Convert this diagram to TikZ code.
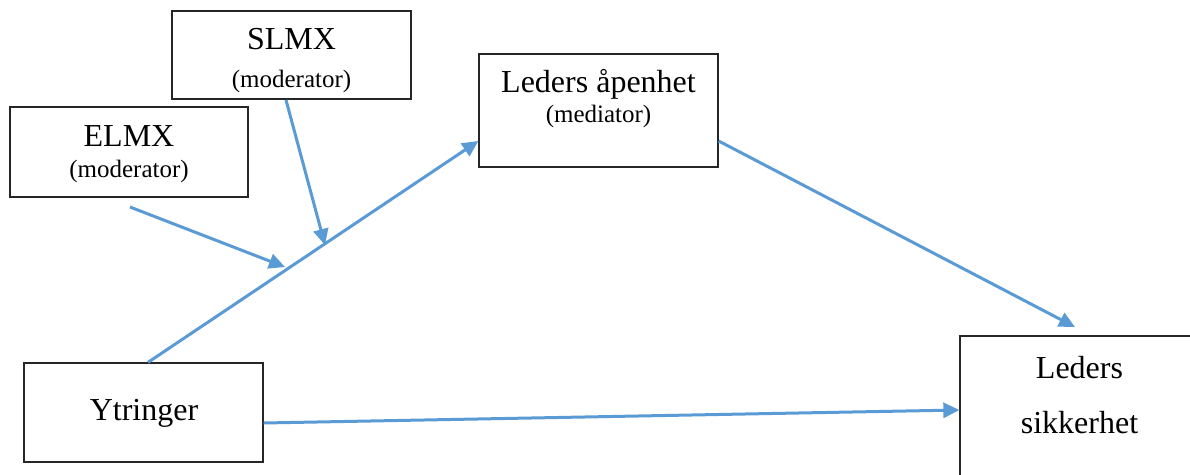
\documentclass[tikz,border=0pt]{standalone}
\usepackage{fontspec}
\setmainfont{Liberation Serif}
\usetikzlibrary{arrows.meta,calc}
\definecolor{arrowblue}{RGB}{91,155,213}
\tikzset{
  box/.style={draw=black!85, line width=1.3pt, fill=white, inner sep=0pt, rectangle},
  title/.style={anchor=base, inner sep=0pt, font=\fontsize{32}{36}\selectfont},
  sub/.style={anchor=base, inner sep=0pt, font=\fontsize{25}{29}\selectfont},
  link/.style={draw=arrowblue, line width=3pt, -{Triangle[length=16pt,width=15pt]}}
}
\begin{document}
\begin{tikzpicture}[x=1pt,y=1pt]
\useasboundingbox (0,0) rectangle (1190,474);
\clip (0,0) rectangle (1190,474);
\fill[white] (0,0) rectangle (1190,474);
% boxes
\node[box, minimum width=239pt, minimum height=88pt] (slmx) at (291.5,419) {};
\node[box, minimum width=238pt, minimum height=90pt] (elmx) at (129,322) {};
\node[box, minimum width=239pt, minimum height=113pt] (apen) at (598.5,363.5) {};
\node[box, minimum width=239pt, minimum height=99pt] (ytr) at (143.5,61.5) {};
\node[box, minimum width=240pt, minimum height=180pt] (sik) at (1080,48) {};
% texts
\node[title] (slmxT) at (291.5,424) {SLMX};
\node[sub] (slmxS) at (291.5,386) {(moderator)};
\node[title] (elmxT) at (129,327) {ELMX};
\node[sub] (elmxS) at (129,296) {(moderator)};
\node[title] (apenT) at (598.5,381) {Leders åpenhet};
\node[sub] (apenS) at (598.5,351.5) {(mediator)};
\node[title] (ytrT) at (144,54) {Ytringer};
\node[title] (sikT1) at (1079.5,96) {Leders};
\node[title] (sikT2) at (1079.5,41) {sikkerhet};
% free ends
\coordinate (elmxStart) at (130,267);
\coordinate (elmxEnd) at (285,207);
\coordinate (slmxStart) at (286,374);
\coordinate (slmxEnd) at (325,229);
\coordinate (sikTop) at (1075,147);
% connectors
\draw[link] ([xshift=4.5pt]ytr.north) -- ([yshift=-30.5pt]apen.west);
\draw[link] (elmxStart) -- (elmxEnd);
\draw[link] (slmxStart) -- (slmxEnd);
\draw[link] ([yshift=-30.5pt]apen.east) -- (sikTop);
\draw[link] ([yshift=-10.5pt]ytr.east) -- ([yshift=16pt]sik.west);
\end{tikzpicture}
\end{document}
